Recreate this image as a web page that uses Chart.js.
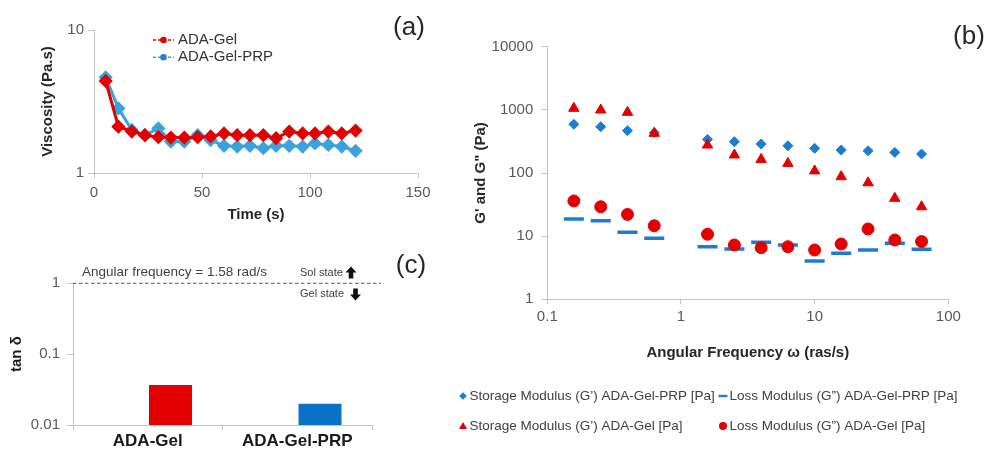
<!DOCTYPE html>
<html>
<head>
<meta charset="utf-8">
<script src="https://cdn.jsdelivr.net/npm/chart.js@4.4.1/dist/chart.umd.min.js"></script>
<style>
  body { margin: 0; background: #fff; }
  #wrap { position: relative; width: 987px; height: 450px; }
  canvas { position: absolute; }
</style>
</head>
<body>
<div id="wrap">
  <canvas id="viscChart" width="440" height="225" style="left:0;top:0"></canvas>
  <canvas id="tanChart" width="440" height="225" style="left:0;top:225px"></canvas>
  <canvas id="modChart" width="547" height="450" style="left:440px;top:0"></canvas>
</div>
<script>
// (a) viscosity vs time
const timeS = [5.4, 11.3, 17.5, 23.6, 29.8, 35.6, 41.8, 48.0, 54.0, 60.2, 66.3, 72.2, 78.4, 84.3, 90.4, 96.6, 102.3, 108.5, 114.7, 121.1];
const viscGel = [4.40, 2.11, 1.95, 1.84, 1.78, 1.77, 1.77, 1.78, 1.80, 1.89, 1.84, 1.84, 1.84, 1.75, 1.95, 1.89, 1.89, 1.95, 1.89, 1.98];
const viscGelPRP = [4.67, 2.83, 2.00, 1.84, 2.05, 1.66, 1.66, 1.84, 1.70, 1.55, 1.53, 1.55, 1.49, 1.55, 1.55, 1.53, 1.61, 1.57, 1.53, 1.43];
const viscTicks = [1, 10];

// (b) moduli vs angular frequency
const omega = [0.158, 0.251, 0.398, 0.631, 1.58, 2.51, 3.98, 6.31, 10, 15.8, 25.1, 39.8, 63.1];
const gStorePRP = [590, 541, 468, 435, 341, 313, 288, 270, 246, 231, 225, 212, 200];
const gLossPRP = [18.7, 17.6, 11.5, 9.25, 6.8, 6.25, 7.98, 7.24, 4.04, 5.35, 6.04, 7.7, 6.18];
const gStoreGel = [1057, 995, 914, 425, 277, 193, 164, 142, 108, 87.5, 70, 39.7, 29.2];
const gLossGel = [36.1, 29.2, 22.1, 14.6, 10.7, 7.24, 6.56, 6.8, 6.04, 7.5, 13, 8.7, 8.2];
const omegaTicks = [0.1, 1, 10, 100];
const modTicks = [1, 10, 100, 1000, 10000];

// (c) tan delta
const samples = ['ADA-Gel', 'ADA-Gel-PRP'];
const tanDelta = [0.0366, 0.0200];
const tanTicks = [0.01, 0.1, 1];
const sepLine = 1;

const RED = '#E20000';
const AXIS = '#C4C4C4';
const TICKTXT = '#595959';
const FONT = '"Liberation Sans", Arial, sans-serif';

Chart.defaults.font.family = FONT;
Chart.defaults.color = TICKTXT;
Chart.defaults.animation = false;

const pts = (xs, ys) => xs.map((x, i) => ({ x: x, y: ys[i] }));
const fixedTicks = list => s => { s.ticks = list.map(v => ({ value: v })); };

function panelLabel(ctx, text, x, y) {
  ctx.save();
  ctx.font = '26px ' + FONT;
  ctx.fillStyle = '#262626';
  ctx.textAlign = 'center';
  ctx.textBaseline = 'middle';
  ctx.fillText(text, x, y);
  ctx.restore();
}

// ---------- (a) ----------
const viscLegend = {
  id: 'viscLegend',
  afterDraw(chart) {
    const ctx = chart.ctx;
    chart.data.datasets.forEach((ds, i) => {
      const y = 40 + i * 17.3;
      ctx.save();
      ctx.strokeStyle = ds.borderColor;
      ctx.lineWidth = 1.5;
      ctx.setLineDash([3, 2]);
      ctx.beginPath(); ctx.moveTo(153, y); ctx.lineTo(174, y); ctx.stroke();
      ctx.setLineDash([]);
      ctx.fillStyle = ds.legendDot;
      ctx.beginPath(); ctx.arc(163.5, y, 3.3, 0, Math.PI * 2); ctx.fill();
      ctx.fillStyle = '#333';
      ctx.font = '15px ' + FONT;
      ctx.textBaseline = 'middle';
      ctx.fillText(ds.label, 178, y);
      ctx.restore();
    });
    panelLabel(ctx, '(a)', 409, 28);
  }
};

new Chart(document.getElementById('viscChart'), {
  type: 'line',
  data: {
    datasets: [
      { label: 'ADA-Gel', data: pts(timeS, viscGel), borderColor: RED, backgroundColor: RED,
        legendDot: RED, borderWidth: 3, pointStyle: 'rectRot', pointRadius: 5, tension: 0 },
      { label: 'ADA-Gel-PRP', data: pts(timeS, viscGelPRP), borderColor: '#3CA2DC', backgroundColor: '#3CA2DC',
        legendDot: '#2A7DD2', borderWidth: 3, pointStyle: 'rectRot', pointRadius: 5, tension: 0 }
    ]
  },
  options: {
    responsive: false,
    layout: { padding: { left: 0, top: 30, right: 22, bottom: 0 } },
    plugins: { legend: { display: false }, tooltip: { enabled: false } },
    scales: {
      x: {
        type: 'linear', min: 0, max: 150,
        ticks: { stepSize: 50, font: { size: 15 }, padding: 6 },
        grid: { drawOnChartArea: false, tickLength: 5, color: AXIS },
        border: { color: AXIS },
        title: { display: true, text: 'Time (s)', color: '#262626', font: { size: 15, weight: 'bold' }, padding: { top: 0, bottom: 1 } },
        afterFit: s => { s.height = 52; }
      },
      y: {
        type: 'logarithmic', min: 1, max: 10,
        afterBuildTicks: fixedTicks(viscTicks),
        ticks: { callback: v => String(v), font: { size: 15 }, padding: 4 },
        grid: { drawOnChartArea: false, tickLength: 6, color: AXIS },
        border: { color: AXIS },
        title: { display: true, text: 'Viscosity (Pa.s)', color: '#262626', font: { size: 15, weight: 'bold' }, padding: { top: 39, bottom: 0 } },
        afterFit: s => { s.width = 94; }
      }
    }
  },
  plugins: [viscLegend]
});

// ---------- (c) ----------
function arrow(ctx, x, yTip, dir) {
  const h = 6 * dir, len = 12 * dir;
  ctx.beginPath();
  ctx.moveTo(x, yTip);
  ctx.lineTo(x + 5.5, yTip + h);
  ctx.lineTo(x + 2.3, yTip + h);
  ctx.lineTo(x + 2.3, yTip + len);
  ctx.lineTo(x - 2.3, yTip + len);
  ctx.lineTo(x - 2.3, yTip + h);
  ctx.lineTo(x - 5.5, yTip + h);
  ctx.closePath();
  ctx.fill();
}

const tanNotes = {
  id: 'tanNotes',
  afterDraw(chart) {
    const ctx = chart.ctx;
    const y1 = chart.scales.y.getPixelForValue(sepLine);
    ctx.save();
    ctx.strokeStyle = '#555';
    ctx.lineWidth = 1;
    ctx.setLineDash([3.5, 2.5]);
    ctx.beginPath(); ctx.moveTo(chart.chartArea.left, y1); ctx.lineTo(381, y1); ctx.stroke();
    ctx.setLineDash([]);
    ctx.fillStyle = '#404040';
    ctx.textBaseline = 'middle';
    ctx.font = '13.5px ' + FONT;
    ctx.fillText('Angular frequency = 1.58 rad/s', 82, 47);
    ctx.font = '11px ' + FONT;
    ctx.fillText('Sol state', 300, 48);
    ctx.fillText('Gel state', 300, 69);
    ctx.fillStyle = '#111';
    arrow(ctx, 351, 41.5, 1);
    arrow(ctx, 355.5, 75.5, -1);
    ctx.restore();
    panelLabel(ctx, '(c)', 411, 41);
  }
};

new Chart(document.getElementById('tanChart'), {
  type: 'bar',
  data: {
    labels: samples,
    datasets: [
      { label: '', data: samples.map(() => null) },
      { label: 'tan δ', data: tanDelta, backgroundColor: [RED, '#0A72C6'] }
    ]
  },
  options: {
    responsive: false,
    layout: { padding: { left: 0, top: 58.3, right: 68, bottom: 0 } },
    datasets: { bar: { categoryPercentage: 0.609, barPercentage: 0.945 } },
    plugins: { legend: { display: false }, tooltip: { enabled: false } },
    scales: {
      x: {
        ticks: { font: { size: 17, weight: 'bold' }, color: '#1a1a1a', padding: 1 },
        grid: { drawOnChartArea: false, tickLength: 5, color: AXIS, offset: true },
        border: { color: AXIS },
        afterFit: s => { s.height = 25; }
      },
      y: {
        type: 'logarithmic', min: 0.01, max: 1,
        afterBuildTicks: fixedTicks(tanTicks),
        ticks: { callback: v => String(v), font: { size: 15 }, padding: 7 },
        grid: { drawOnChartArea: false, tickLength: 6, color: AXIS },
        border: { color: AXIS },
        title: { display: true, text: 'tan δ', color: '#1a1a1a', font: { size: 15, weight: 'bold' }, padding: { top: 8, bottom: 0 } },
        afterFit: s => { s.width = 73; }
      }
    }
  },
  plugins: [tanNotes]
});

// ---------- (b) ----------
function marker(ctx, style, x, y, color) {
  ctx.fillStyle = color;
  ctx.beginPath();
  if (style === 'rectRot') {
    ctx.moveTo(x, y - 3.8); ctx.lineTo(x + 3.8, y); ctx.lineTo(x, y + 3.8); ctx.lineTo(x - 3.8, y);
  } else if (style === 'triangle') {
    ctx.moveTo(x, y - 4); ctx.lineTo(x + 4, y + 3); ctx.lineTo(x - 4, y + 3);
  } else if (style === 'line') {
    ctx.rect(x - 4.5, y - 1.2, 9, 2.4);
  } else {
    ctx.arc(x, y, 4, 0, Math.PI * 2);
  }
  ctx.closePath();
  ctx.fill();
}

const modLegend = {
  id: 'modLegend',
  afterDraw(chart) {
    const ctx = chart.ctx;
    const spots = [[23, 396], [283, 396], [23, 426], [283, 426]];
    chart.data.datasets.forEach((ds, i) => {
      const [x, y] = spots[i];
      ctx.save();
      marker(ctx, ds.pointStyle, x, y, ds.borderColor);
      ctx.fillStyle = '#404040';
      ctx.font = '13.5px ' + FONT;
      ctx.textBaseline = 'middle';
      ctx.fillText(ds.label, x + 6.5, y);
      ctx.restore();
    });
    panelLabel(ctx, '(b)', 529, 37);
  }
};

const BLUE = '#1C7CD2';
new Chart(document.getElementById('modChart'), {
  type: 'scatter',
  data: {
    datasets: [
      { label: 'Storage Modulus (G’) ADA-Gel-PRP [Pa]', data: pts(omega, gStorePRP), pointStyle: 'rectRot',
        pointRadius: 5, borderColor: BLUE, backgroundColor: BLUE, order: 1 },
      { label: 'Loss Modulus (G”) ADA-Gel-PRP [Pa]', data: pts(omega, gLossPRP), pointStyle: 'line',
        pointRadius: 10, pointBorderWidth: 3.5, borderColor: BLUE, backgroundColor: BLUE, order: 1 },
      { label: 'Storage Modulus (G’) ADA-Gel [Pa]', data: pts(omega, gStoreGel), pointStyle: 'triangle',
        pointRadius: 6, borderColor: RED, backgroundColor: RED, order: 0 },
      { label: 'Loss Modulus (G”) ADA-Gel [Pa]', data: pts(omega, gLossGel), pointStyle: 'circle',
        pointRadius: 6, borderColor: RED, backgroundColor: RED, order: 0 }
    ]
  },
  options: {
    responsive: false,
    layout: { padding: { left: 0, top: 46.7, right: 38.7, bottom: 80 } },
    plugins: { legend: { display: false }, tooltip: { enabled: false } },
    scales: {
      x: {
        type: 'logarithmic', min: 0.1, max: 100,
        afterBuildTicks: fixedTicks(omegaTicks),
        ticks: { callback: v => String(v), font: { size: 15 }, padding: 4 },
        grid: { drawOnChartArea: false, tickLength: 5, color: AXIS },
        border: { color: AXIS },
        title: { display: true, text: 'Angular Frequency ω (ras/s)', color: '#262626', font: { size: 15, weight: 'bold' }, padding: { top: 0, bottom: 8.3 } },
        afterFit: s => { s.height = 70.7; }
      },
      y: {
        type: 'logarithmic', min: 1, max: 10000,
        afterBuildTicks: fixedTicks(modTicks),
        ticks: { callback: v => String(v), font: { size: 15 }, padding: 8 },
        grid: { drawOnChartArea: false, tickLength: 6, color: AXIS },
        border: { color: AXIS },
        title: { display: true, text: 'G\' and G" (Pa)', color: '#262626', font: { size: 15, weight: 'bold' }, padding: { top: 32, bottom: 0 } },
        afterFit: s => { s.width = 107.3; }
      }
    }
  },
  plugins: [modLegend]
});
</script>
</body>
</html>
